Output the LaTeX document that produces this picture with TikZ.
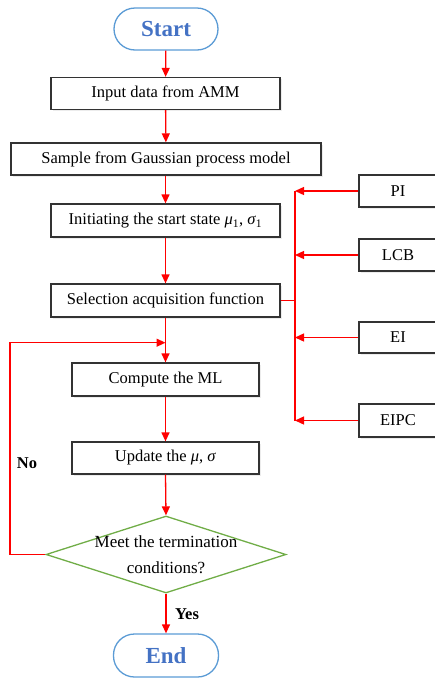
\documentclass[tikz,border=0pt]{standalone}
\usepackage{fontspec}
\setmainfont{Liberation Serif}
\usetikzlibrary{arrows.meta,shapes.geometric,shadows}
\definecolor{termline}{HTML}{5B9BD5}
\definecolor{termtext}{HTML}{4472C4}
\definecolor{decline}{HTML}{70AD47}
\definecolor{boxline}{HTML}{333333}
\tikzset{
  procbox/.style={draw=boxline, line width=1.3pt, rectangle, inner sep=0pt, fill=white,
    drop shadow={opacity=0.15, shadow xshift=1.5pt, shadow yshift=-1.5pt},
    minimum height=32pt, font=\fontsize{16.5}{20}\selectfont},
  termbox/.style={draw=termline, line width=1.3pt, rectangle, rounded corners=21pt,
    minimum width=104pt, minimum height=42pt, inner sep=0pt,
    text=termtext, font=\fontsize{23}{26}\bfseries},
  decbox/.style={draw=decline, line width=1.3pt, diamond, inner sep=0pt,
    minimum width=240pt, minimum height=77pt},
  arr/.style={draw=red, line width=1.3pt, -{Triangle[length=9pt,width=8pt]}},
  rline/.style={draw=red, line width=1.3pt},
  lbl/.style={font=\fontsize{16.5}{20}\selectfont\bfseries}
}
\begin{document}
\begin{tikzpicture}[x=1pt,y=-1pt]
\useasboundingbox (0,0) rectangle (435,678);
\clip (0,0) rectangle (435,678);
% main column
\node[termbox] (start) at (166,29) {Start};
\node[procbox, minimum width=229pt] (input) at (165.5,93.5) {Input data from AMM};
\node[procbox, minimum width=310pt] (sample) at (166,159) {Sample from Gaussian process model};
\node[procbox, minimum width=229pt, minimum height=33pt] (init) at (165.5,220.5) {Initiating the start state \textit{μ}\textsubscript{1}, \textit{σ}\textsubscript{1}};
\node[procbox, minimum width=229pt, minimum height=33pt] (select) at (165.5,300.5) {Selection acquisition function};
\node[procbox, minimum width=187pt, minimum height=33pt] (compute) at (165.5,379.5) {Compute the ML};
\node[procbox, minimum width=187pt] (update) at (165.5,458) {Update the \textit{μ}, \textit{σ}};
\node[decbox] (dec) at (166,554.5) {};
\node[align=center, font=\fontsize{17}{26}\selectfont] (dectext) at (166,555) {Meet the termination\\conditions?};
\node[termbox, minimum width=105pt, minimum height=43pt] (end) at (166,655.5) {End};
% right column
\node[procbox, minimum width=78pt] (pi) at (398,191) {PI};
\node[procbox, minimum width=78pt] (lcb) at (398,255) {LCB};
\node[procbox, minimum width=78pt, minimum height=31pt] (ei) at (398,337.5) {EI};
\node[procbox, minimum width=78pt, minimum height=33pt] (eipc) at (398,420.5) {EIPC};
\coordinate (bus) at (295,0);
\coordinate (loopx) at (10,0);
\coordinate (joint) at (165.5,342.7);
% main arrows
\draw[arr] (start) -- (input);
\draw[arr] (input) -- (sample);
\draw[arr] (sample.south -| init.north) -- (init.north);
\draw[arr] (init) -- (select);
\draw[arr] (select) -- (compute);
\draw[arr] (compute) -- (update);
\draw[arr] (update.south) -- (dec.north);
\draw[arr] (dec.south) -- (end.north);
% loop
\draw[arr] (dec.west) -- (dec.west -| loopx) -- (loopx |- joint) -- (joint);
% bus
\draw[rline] (pi.west -| bus) -- (eipc.west -| bus);
\draw[rline] (select.east) -- (select.east -| bus);
\draw[arr] (pi.west) -- (pi.west -| bus);
\draw[arr] (lcb.west) -- (lcb.west -| bus);
\draw[arr] (ei.west) -- (ei.west -| bus);
\draw[arr] (eipc.west) -- (eipc.west -| bus);
% labels
\node[lbl] (no) at (27,463) {No};
\node[lbl] (yes) at (187,614) {Yes};
\end{tikzpicture}
\end{document}
